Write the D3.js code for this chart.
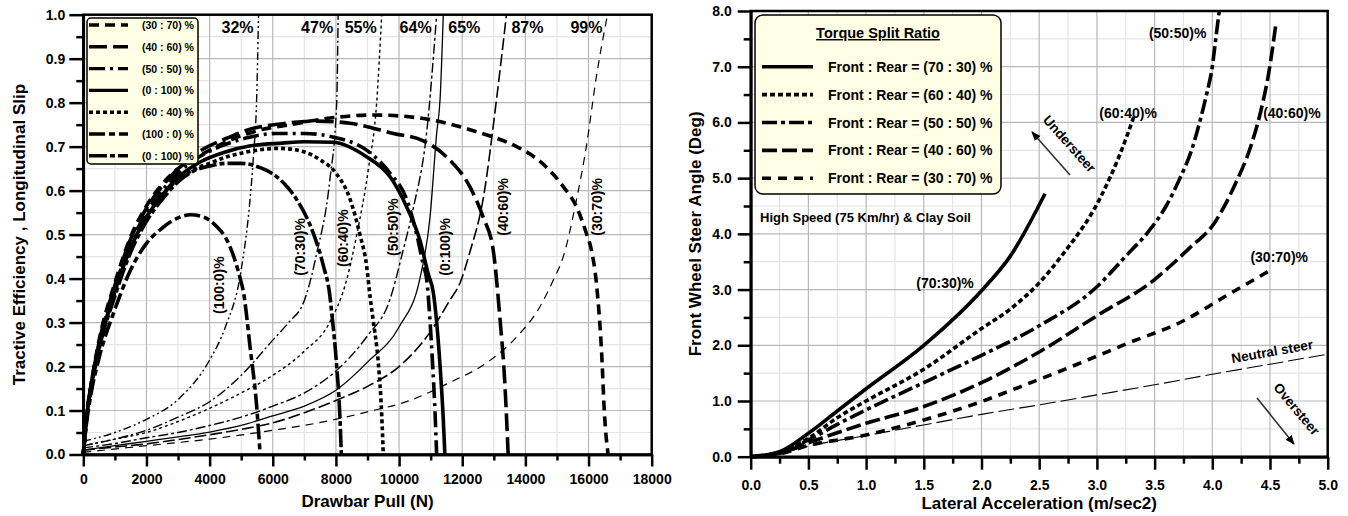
<!DOCTYPE html>
<html lang="en">
<head>
<meta charset="UTF-8">
<title>torque split</title>
<script src="https://cdn.jsdelivr.net/npm/d3@7"></script>
<style>
	body { margin: 0; background: #fff; }
	text { font-family: 'Liberation Sans', Arial, sans-serif; font-weight: bold; fill: #000; }
</style>
</head>
<body>
<script>
	/* ---------- left chart : drawbar pull ---------- */
	let pullMajor = d3.range(0, 18001, 2000)
	let pullMinor = d3.range(1000, 18000, 2000)
	let effMajor = d3.range(0, 10.5, 1).map(d => d / 10)
	let effMinor = d3.range(0.5, 10, 1).map(d => d / 10)

	// tractive efficiency curves
	let te3070 = [[0,0],[100,0.085],[250,0.16],[500,0.26],[1000,0.39],[1500,0.495],[2000,0.565],[2500,0.615],[3000,0.65],[3700,0.68],[4750,0.718],[5600,0.738],[6550,0.75],[7810,0.765],[9190,0.772],[10660,0.765],[12450,0.734],[13720,0.70],[14350,0.673],[15200,0.609],[15620,0.563],[15930,0.503],[16090,0.465],[16250,0.389],[16410,0.237],[16510,0.085],[16620,0]]
	let te4060 = [[0,0],[100,0.085],[250,0.16],[500,0.255],[1000,0.385],[1500,0.49],[2000,0.56],[2500,0.61],[3000,0.65],[3700,0.69],[4500,0.718],[5300,0.74],[6300,0.752],[7400,0.758],[8450,0.753],[9820,0.73],[10770,0.713],[11500,0.677],[12240,0.609],[12660,0.54],[12980,0.465],[13190,0.313],[13350,0.161],[13455,0]]
	let te5050 = [[0,0],[100,0.08],[250,0.16],[500,0.25],[1000,0.38],[1500,0.48],[2000,0.55],[2500,0.60],[3000,0.64],[3700,0.678],[4500,0.705],[5300,0.722],[6100,0.73],[7000,0.73],[7900,0.722],[8970,0.692],[9710,0.64],[10240,0.58],[10560,0.50],[10770,0.43],[10870,0.40],[11030,0.245],[11140,0.093],[11190,0]]
	let te0100 = [[0,0],[100,0.08],[250,0.155],[500,0.245],[1000,0.37],[1500,0.47],[2000,0.54],[2500,0.59],[3000,0.63],[3700,0.665],[4500,0.688],[5300,0.702],[6300,0.708],[7000,0.711],[7900,0.71],[8970,0.677],[9710,0.632],[10240,0.563],[10660,0.487],[10925,0.41],[11080,0.37],[11290,0.21],[11400,0.08],[11450,0]]
	let te6040 = [[0,0],[100,0.08],[250,0.155],[500,0.245],[1000,0.37],[1500,0.47],[2000,0.54],[2500,0.59],[3000,0.625],[3500,0.648],[4000,0.662],[4500,0.676],[5000,0.685],[5500,0.692],[6200,0.696],[7000,0.688],[7500,0.67],[8000,0.64],[8450,0.58],[8760,0.50],[8970,0.43],[9080,0.36],[9180,0.305],[9340,0.21],[9450,0.09],[9500,0]]
	let te1000 = [[0,0],[100,0.07],[250,0.14],[500,0.22],[1000,0.33],[1500,0.42],[2000,0.48],[2500,0.515],[3000,0.538],[3400,0.545],[3800,0.54],[4200,0.52],[4600,0.48],[4970,0.40],[5070,0.37],[5280,0.245],[5490,0.11],[5600,0]]
	let te7030 = [[0,0],[100,0.08],[250,0.15],[500,0.24],[1000,0.36],[1500,0.46],[2000,0.53],[2500,0.58],[3000,0.62],[3500,0.645],[4000,0.656],[4500,0.662],[5000,0.662],[5500,0.655],[6000,0.638],[6500,0.605],[6800,0.575],[7100,0.535],[7300,0.50],[7600,0.43],[7810,0.36],[7870,0.32],[8025,0.20],[8130,0.08],[8170,0]]

	// longitudinal slip curves
	let slip3070 = [[0,0.005],[2000,0.02],[4000,0.035],[6000,0.055],[7800,0.077],[9000,0.097],[10350,0.123],[11500,0.16],[12880,0.214],[13720,0.267],[14460,0.336],[14880,0.396],[15200,0.45],[15620,0.58],[15930,0.70],[16250,0.86],[16600,1.0]]
	let slip4060 = [[0,0.01],[1000,0.017],[2000,0.024],[3000,0.034],[4000,0.045],[5000,0.057],[6000,0.072],[7000,0.095],[8000,0.123],[9000,0.155],[10000,0.20],[11000,0.28],[11600,0.35],[11930,0.39],[12240,0.46],[12660,0.58],[13090,0.81],[13400,1.0]]
	let slip5050 = [[0,0.015],[1000,0.025],[2000,0.038],[3000,0.05],[4000,0.066],[5000,0.085],[6000,0.11],[7000,0.14],[8000,0.19],[9000,0.27],[9700,0.35],[10130,0.465],[10450,0.56],[10870,0.73],[11190,1.0]]
	let slip0100 = [[0,0.01],[1000,0.02],[2000,0.03],[3000,0.04],[4000,0.051],[5000,0.066],[6000,0.088],[7000,0.11],[8000,0.146],[9000,0.21],[10000,0.29],[10660,0.40],[10980,0.54],[11190,0.73],[11300,0.81],[11400,1.0]]
	let slip6040 = [[0,0.02],[1000,0.035],[2000,0.05],[3000,0.075],[4000,0.105],[5000,0.14],[6000,0.18],[7000,0.235],[7800,0.30],[8350,0.40],[8660,0.50],[9030,0.65],[9290,0.80],[9450,1.0]]
	let slip1000 = [[0,0.03],[1000,0.05],[2000,0.08],[3000,0.125],[4000,0.215],[4500,0.29],[5000,0.42],[5280,0.58],[5390,0.68],[5490,0.81],[5550,1.0]]
	let slip7030 = [[0,0.02],[1000,0.035],[2000,0.055],[3000,0.085],[4000,0.12],[5000,0.18],[6000,0.26],[6500,0.30],[7000,0.35],[7400,0.46],[7800,0.62],[8025,0.80],[8070,1.0]]

	let leftKeys = ['(30 : 70) %', '(40 : 60) %', '(50 : 50) %', '(0 : 100) %', '(60 : 40) %', '(100 : 0) %', '(0 : 100) %']
	let curveTags = ['(30:70)%', '(40:60)%', '(50:50)%', '(0:100)%', '(60:40)%', '(100:0)%', '(70:30)%']
	let slipTops = ['99%', '87%', '64%', '65%', '55%', '32%', '47%']

	/* ---------- right chart : lateral acceleration ---------- */
	let latMajor = d3.range(0, 5.01, 0.5)
	let latMinor = d3.range(0.25, 5, 0.5)
	let steerMajor = d3.range(0, 8.01, 1)
	let steerMinor = d3.range(0.5, 8, 1)

	let st7030 = [[0,0],[0.25,0.09],[0.5,0.42],[0.75,0.82],[1.0,1.22],[1.5,2.0],[2.0,2.98],[2.25,3.6],[2.55,4.72]]
	let st6040 = [[0,0],[0.25,0.08],[0.5,0.33],[0.75,0.7],[1.0,1.0],[1.5,1.57],[2.0,2.3],[2.25,2.65],[2.5,3.12],[2.7,3.62],[3.03,4.65],[3.2,5.43],[3.32,6.1]]
	let st5050 = [[0,0],[0.25,0.07],[0.5,0.3],[0.75,0.58],[1.0,0.84],[1.5,1.33],[2.0,1.82],[2.5,2.35],[3.0,3.05],[3.25,3.6],[3.45,4.05],[3.6,4.5],[3.72,5.0],[3.82,5.5],[3.89,6.0],[3.95,6.5],[4.0,7.0],[4.03,7.5],[4.06,8.0]]
	let st4060 = [[0,0],[0.25,0.06],[0.5,0.25],[1.0,0.6],[1.5,0.9],[2.0,1.33],[2.5,1.88],[3.0,2.53],[3.5,3.18],[3.8,3.74],[4.02,4.2],[4.2,4.9],[4.33,5.55],[4.42,6.2],[4.49,6.9],[4.55,7.75]]
	let st3070 = [[0,0],[0.25,0.05],[0.5,0.2],[1.0,0.39],[1.5,0.66],[2.0,0.99],[2.33,1.25],[2.83,1.66],[3.26,2.03],[3.75,2.44],[4.13,2.9],[4.53,3.38]]
	let neutral = [[0,0],[0.25,0.06],[0.5,0.19],[1.0,0.38],[1.5,0.57],[2.0,0.76],[2.5,0.93],[3.0,1.11],[3.5,1.29],[4.0,1.48],[4.5,1.66],[5.0,1.84]]

	let rightKeys = ['Front : Rear = (70 : 30) %', 'Front : Rear = (60 : 40) %', 'Front : Rear = (50 : 50) %', 'Front : Rear = (40 : 60) %', 'Front : Rear = (30 : 70) %']
	let rightTags = ['(70:30)%', '(60:40)%', '(50:50)%', '(40:60)%', '(30:70)%']

	/* ---------- drawing ---------- */
	let svg = d3.select('body').append('svg')
		.attr('width', 1348)
		.attr('height', 516)

	let xL = d3.scaleLinear().domain([0, 18000]).range([83.3, 651.7])
	let yL = d3.scaleLinear().domain([0, 1]).range([454.5, 14.7])
	let xR = d3.scaleLinear().domain([0, 5]).range([750.7, 1327.7])
	let yR = d3.scaleLinear().domain([0, 8]).range([456.7, 11])

	function grid(x, y, xs, ys, col) {
		let g = svg.append('g').attr('stroke', col).attr('stroke-width', 1.2)
		g.selectAll('.v').data(xs).enter().append('line')
			.attr('x1', d => x(d)).attr('x2', d => x(d))
			.attr('y1', y.range()[0]).attr('y2', y.range()[1])
		g.selectAll('.h').data(ys).enter().append('line')
			.attr('y1', d => y(d)).attr('y2', d => y(d))
			.attr('x1', x.range()[0]).attr('x2', x.range()[1])
	}
	grid(xL, yL, pullMinor, effMinor, '#e4e4e4')
	grid(xL, yL, pullMajor, effMajor, '#b8b8b8')
	grid(xR, yR, latMinor, steerMinor, '#e4e4e4')
	grid(xR, yR, latMajor, steerMajor, '#b8b8b8')

	function styleAxis(g, fs) {
		g.attr('font-family', null).attr('font-size', null)
		g.select('.domain').attr('stroke-width', 2.5)
		g.selectAll('.tick line').attr('stroke-width', 2.5)
		g.selectAll('.tick text').style('font-size', fs + 'px')
	}

	// left axes
	styleAxis(svg.append('g').attr('transform', `translate(0,${yL(0)})`)
		.call(d3.axisBottom(xL).tickValues(pullMajor).tickSize(12).tickSizeOuter(0).tickPadding(8).tickFormat(d3.format('d'))), 14)
	styleAxis(svg.append('g').attr('transform', `translate(0,${yL(0)})`)
		.call(d3.axisBottom(xL).tickValues(pullMinor).tickSize(6).tickSizeOuter(0).tickFormat('')), 14)
	styleAxis(svg.append('g').attr('transform', `translate(${xL(0)},0)`)
		.call(d3.axisLeft(yL).tickValues(effMajor).tickSize(14).tickSizeOuter(0).tickPadding(4).tickFormat(d3.format('.1f'))), 14)
	styleAxis(svg.append('g').attr('transform', `translate(${xL(0)},0)`)
		.call(d3.axisLeft(yL).tickValues(effMinor).tickSize(7).tickSizeOuter(0).tickFormat('')), 14)

	// right axes
	styleAxis(svg.append('g').attr('transform', `translate(0,${yR(0)})`)
		.call(d3.axisBottom(xR).tickValues(latMajor).tickSize(13).tickSizeOuter(0).tickPadding(10).tickFormat(d3.format('.1f'))), 14)
	styleAxis(svg.append('g').attr('transform', `translate(0,${yR(0)})`)
		.call(d3.axisBottom(xR).tickValues(latMinor).tickSize(7).tickSizeOuter(0).tickFormat('')), 14)
	styleAxis(svg.append('g').attr('transform', `translate(${xR(0)},0)`)
		.call(d3.axisLeft(yR).tickValues(steerMajor).tickSize(13).tickSizeOuter(0).tickPadding(6).tickFormat(d3.format('.1f'))), 14)
	styleAxis(svg.append('g').attr('transform', `translate(${xR(0)},0)`)
		.call(d3.axisLeft(yR).tickValues(steerMinor).tickSize(7).tickSizeOuter(0).tickFormat('')), 14)

	// frames
	svg.append('rect').attr('x', xL(0)).attr('y', yL(1))
		.attr('width', xL(18000) - xL(0)).attr('height', yL(0) - yL(1))
		.attr('fill', 'none').attr('stroke', '#000').attr('stroke-width', 2.5)
	svg.append('rect').attr('x', xR(0)).attr('y', yR(8))
		.attr('width', xR(5) - xR(0)).attr('height', yR(0) - yR(8))
		.attr('fill', 'none').attr('stroke', '#000').attr('stroke-width', 2.5)

	// axis titles
	svg.append('text').attr('x', (xL(0) + xL(18000)) / 2).attr('y', 507)
		.attr('text-anchor', 'middle').style('font-size', '17px').text('Drawbar Pull (N)')
	svg.append('text').attr('transform', `translate(25,${(yL(0) + yL(1)) / 2}) rotate(-90)`)
		.attr('text-anchor', 'middle').style('font-size', '17px').text('Tractive Efficiency , Longitudinal Slip')
	svg.append('text').attr('x', (xR(0) + xR(5)) / 2).attr('y', 509)
		.attr('text-anchor', 'middle').style('font-size', '17px').text('Lateral Acceleration (m/sec2)')
	svg.append('text').attr('transform', `translate(701,${(yR(0) + yR(8)) / 2}) rotate(-90)`)
		.attr('text-anchor', 'middle').style('font-size', '17px').text('Front Wheel Steer Angle (Deg)')

	// left series table
	let leftEff = [te3070, te4060, te5050, te0100, te6040, te1000, te7030]
	let leftSlip = [slip3070, slip4060, slip5050, slip0100, slip6040, slip1000, slip7030]
	let thickDash = ['10,6', '18,6', '16,5,3,5', null, '4,3', '16,4,6,4', '18,3,5,3']
	let thinDash = ['8,6', '12,4', '10,3,3,3', null, '3,3', '8,3,2,3,2,3', '10,3,2,3']
	let thinWidth = [1.2, 1.6, 1.4, 1.3, 1.4, 1.4, 1.4]
	let tagPos = [[16270, 0.563], [13293, 0.563], [9810, 0.517], [11440, 0.472], [8225, 0.492], [4298, 0.385], [6863, 0.472]]
	let topSide = [-1, 1, -1, 1, -1, -1, -1]

	let lineL = d3.line().x(d => xL(d[0])).y(d => yL(d[1])).curve(d3.curveMonotoneX)

	svg.append('g').selectAll('path')
		.data(leftSlip)
		.enter()
		.append('path')
		.attr('d', lineL)
		.attr('fill', 'none')
		.attr('stroke', '#000')
		.attr('stroke-width', (d, i) => thinWidth[i])
		.attr('stroke-dasharray', (d, i) => thinDash[i])

	svg.append('g').selectAll('path')
		.data(leftEff)
		.enter()
		.append('path')
		.attr('d', lineL)
		.attr('fill', 'none')
		.attr('stroke', '#000')
		.attr('stroke-width', 3.6)
		.attr('stroke-dasharray', (d, i) => thickDash[i])

	// top slip % labels next to asymptotes
	svg.append('g').selectAll('text')
		.data(slipTops)
		.enter()
		.append('text')
		.attr('x', (d, i) => xL(leftSlip[i][leftSlip[i].length - 1][0]) + topSide[i] * 5)
		.attr('y', 33)
		.attr('text-anchor', (d, i) => topSide[i] < 0 ? 'end' : 'start')
		.style('font-size', '16px')
		.text(d => d)

	// rotated curve tags
	svg.append('g').selectAll('text')
		.data(curveTags)
		.enter()
		.append('text')
		.attr('transform', (d, i) => `translate(${xL(tagPos[i][0]) + 5},${yL(tagPos[i][1])}) rotate(-90)`)
		.attr('text-anchor', 'middle')
		.style('font-size', '14px')
		.text(d => d)

	// left legend
	let legL = svg.append('g')
	legL.append('rect').attr('x', 87).attr('y', 18).attr('width', 111).attr('height', 146).attr('rx', 4)
		.attr('fill', '#ffffe6').attr('stroke', '#000').attr('stroke-width', 1.5)
	let legRows = legL.selectAll('g.row')
		.data(leftKeys)
		.enter()
		.append('g')
		.attr('transform', (d, i) => `translate(0,${25 + i * 21.8})`)
	legRows.append('line').attr('x1', 89).attr('x2', 128)
		.attr('stroke', '#000').attr('stroke-width', 3.4)
		.attr('stroke-dasharray', (d, i) => thickDash[i])
	legRows.append('text').attr('x', 142).attr('y', 4).style('font-size', '10.5px').text(d => d)

	/* right chart series */
	let rightSeries = [st7030, st6040, st5050, st4060, st3070]
	let rightDash = [null, '5,3', '15,4,4,4', '15,5', '9,7']
	let rightTagPos = [[1.684, 3.12], [3.27, 6.17], [3.70, 7.6], [4.69, 6.17], [4.58, 3.59]]

	let lineR = d3.line().x(d => xR(d[0])).y(d => yR(d[1])).curve(d3.curveMonotoneX)

	svg.append('path').datum(neutral)
		.attr('d', lineR).attr('fill', 'none').attr('stroke', '#000')
		.attr('stroke-width', 1.1).attr('stroke-dasharray', '16,5')

	svg.append('g').selectAll('path')
		.data(rightSeries)
		.enter()
		.append('path')
		.attr('d', lineR)
		.attr('fill', 'none')
		.attr('stroke', '#000')
		.attr('stroke-width', 3.6)
		.attr('stroke-dasharray', (d, i) => rightDash[i])

	svg.append('g').selectAll('text')
		.data(rightTags)
		.enter()
		.append('text')
		.attr('x', (d, i) => xR(rightTagPos[i][0]))
		.attr('y', (d, i) => yR(rightTagPos[i][1]) + 5)
		.attr('text-anchor', 'middle')
		.style('font-size', '14px')
		.text(d => d)

	// right legend
	let legR = svg.append('g')
	legR.append('rect').attr('x', 755).attr('y', 15).attr('width', 246).attr('height', 179).attr('rx', 8)
		.attr('fill', '#ffffe6').attr('stroke', '#000').attr('stroke-width', 1.5)
	legR.append('text').attr('x', 878).attr('y', 38).attr('text-anchor', 'middle')
		.attr('text-decoration', 'underline').style('font-size', '14.5px').text('Torque Split Ratio')
	let rRows = legR.selectAll('g.row')
		.data(rightKeys)
		.enter()
		.append('g')
		.attr('transform', (d, i) => `translate(0,${66.7 + i * 27.9})`)
	rRows.append('line').attr('x1', 762).attr('x2', 813)
		.attr('stroke', '#000').attr('stroke-width', 3.6)
		.attr('stroke-dasharray', (d, i) => rightDash[i])
	rRows.append('text').attr('x', 828).attr('y', 5).style('font-size', '14px').text(d => d)

	svg.append('text').attr('x', 760).attr('y', 222).style('font-size', '13px')
		.text('High Speed (75 Km/hr) & Clay Soil')

	// steer annotations
	svg.append('defs').append('marker')
		.attr('id', 'arr').attr('viewBox', '0 0 10 10').attr('refX', 9).attr('refY', 5)
		.attr('markerWidth', 6).attr('markerHeight', 6).attr('orient', 'auto')
		.append('path').attr('d', 'M0,1L10,5L0,9Z').attr('fill', '#000')

	svg.append('line').attr('x1', 1070).attr('y1', 175).attr('x2', 1032).attr('y2', 132)
		.attr('stroke', '#333').attr('stroke-width', 1.6).attr('marker-end', 'url(#arr)')
	svg.append('text').attr('transform', 'translate(1066,147) rotate(48)')
		.attr('text-anchor', 'middle').style('font-size', '13.5px').text('Understeer')

	svg.append('line').attr('x1', 1257).attr('y1', 398).attr('x2', 1294).attr('y2', 444)
		.attr('stroke', '#333').attr('stroke-width', 1.6).attr('marker-end', 'url(#arr)')
	svg.append('text').attr('transform', 'translate(1293,412) rotate(50)')
		.attr('text-anchor', 'middle').style('font-size', '13.5px').text('Oversteer')

	svg.append('text').attr('transform', 'translate(1273,356) rotate(-10)')
		.attr('text-anchor', 'middle').style('font-size', '13.5px').text('Neutral steer')
</script>
</body>
</html>
